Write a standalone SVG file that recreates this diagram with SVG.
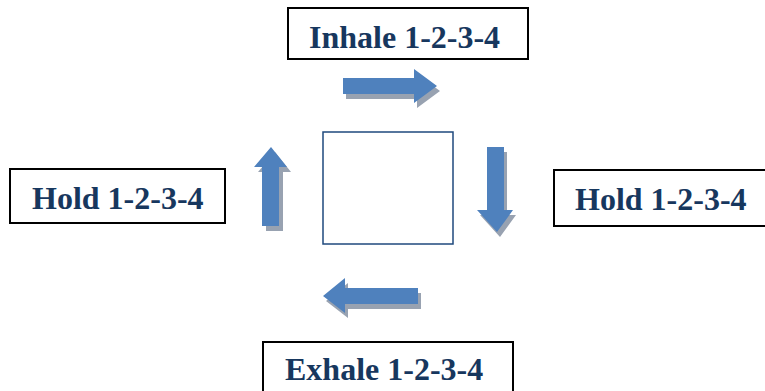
<svg xmlns="http://www.w3.org/2000/svg" width="765" height="391" viewBox="0 0 765 391">
<style>
.box{fill:#fff;stroke:#000;stroke-width:2}
.lbl{font-family:"Liberation Serif","Times New Roman",serif;font-weight:bold;font-size:32px;fill:#17375e}
.arr{fill:#4f81bd}
.sh{fill:#98a2b1}
</style>
<defs>
<polygon id="aR" points="343,78 414,78 414,69 437,86 414,103 414,94 343,94"/>
<polygon id="aD" points="487,147 504,147 504,210 513,210 497,232 477,210 487,210"/>
<polygon id="aL" points="418,288 345,288 345,278 323,296 345,313 345,304 418,304"/>
<polygon id="aU" points="262,226 262,167 254,167 271,147 287,167 279,167 279,226"/>
</defs>
<rect width="765" height="391" fill="#fff"/>
<g id="inhale">
<rect class="box" x="288" y="8" width="240" height="51"/>
<text class="lbl" x="309" y="48">Inhale 1-2-3-4</text>
</g>
<g id="hold-left">
<rect class="box" x="10" y="169" width="215" height="54"/>
<text class="lbl" x="32" y="209">Hold 1-2-3-4</text>
</g>
<g id="hold-right">
<rect class="box" x="554" y="170" width="220" height="56"/>
<text class="lbl" x="575" y="210">Hold 1-2-3-4</text>
</g>
<g id="exhale">
<rect class="box" x="263" y="342" width="250" height="60"/>
<text class="lbl" x="285" y="380">Exhale 1-2-3-4</text>
</g>
<g id="square">
<rect x="323" y="132" width="130" height="112" fill="#fff" stroke="#1f497d" stroke-width="1.5"/>
</g>
<g id="connectors">
<use href="#aR" class="sh" transform="translate(3,5)"/>
<use href="#aR" class="arr"/>
<use href="#aD" class="sh" transform="translate(3,5)"/>
<use href="#aD" class="arr"/>
<use href="#aL" class="sh" transform="translate(3,5)"/>
<use href="#aL" class="arr"/>
<use href="#aU" class="sh" transform="translate(4,5)"/>
<use href="#aU" class="arr"/>
</g>
</svg>
